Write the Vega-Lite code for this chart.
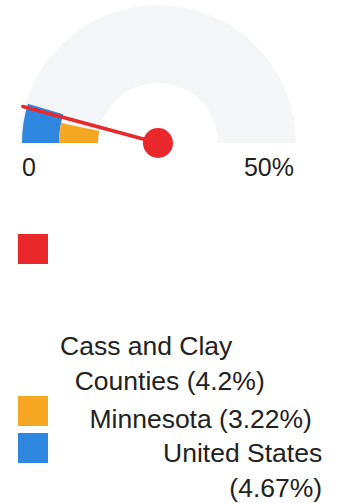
{
  "$schema": "https://vega.github.io/schema/vega-lite/v6.json",
  "width": 316,
  "height": 286,
  "padding": {"left": 0, "top": 0, "right": 0, "bottom": 6},
  "autosize": {"type": "pad"},
  "background": "white",
  "config": {"view": {"stroke": null}},
  "datasets": {
    "range": [{"min": 0, "max": 50}],
    "ticks": [{"tick": 0, "text": "0"}, {"tick": 50, "text": "50%"}],
    "rates": [
      {"area": "Cass and Clay Counties (4.2%)", "rate": 4.2},
      {"area": "Minnesota (3.22%)", "rate": 3.22},
      {"area": "United States (4.67%)", "rate": 4.67}
    ]
  },
  "layer": [
    {
      "data": {"name": "range"},
      "mark": {"type": "arc", "radius": 138, "radius2": 60, "color": "#f5f6f8"},
      "encoding": {
        "theta": {"field": "min", "type": "quantitative", "stack": null,
          "scale": {"domain": [0, 50], "range": [-1.5708, 1.5708], "nice": false, "zero": false}},
        "theta2": {"field": "max"}
      }
    },
    {
      "data": {"name": "rates"},
      "transform": [{"filter": "datum.area == 'United States (4.67%)'"}],
      "mark": {"type": "arc", "radius": 136, "radius2": 99},
      "encoding": {
        "theta": {"field": "rate", "type": "quantitative", "stack": null},
        "theta2": {"datum": 0},
        "color": {
          "field": "area", "type": "nominal",
          "scale": {"domain": ["Cass and Clay Counties (4.2%)", "Minnesota (3.22%)", "United States (4.67%)"], "range": ["#e8282b", "#f5a623", "#2e86de"]},
          "legend": {
            "title": null, "orient": "none", "legendX": 18, "legendY": 234,
            "direction": "vertical", "padding": 0, "rowPadding": 0,
            "symbolType": "square", "symbolSize": 900, "symbolStrokeWidth": 0, "symbolOffset": 0,
            "labelFont": "Liberation Sans", "labelFontSize": 26.5, "labelColor": "#222222", "labelLimit": 400, "labelOffset": 12,
            "labelBaseline": "top", "labelAlign": "left",
            "labelExpr": "datum.label == 'Cass and Clay Counties (4.2%)' ? ['Cass and Clay', '\u200b\u00a0\u00a0Counties (4.2%)'] : datum.label == 'Minnesota (3.22%)' ? '\u200b\u00a0\u00a0\u00a0\u00a0Minnesota (3.22%)' : ['\u200b\u00a0\u00a0\u00a0\u00a0\u00a0\u00a0\u00a0\u00a0\u00a0\u00a0\u00a0\u00a0\u00a0\u00a0United States', '\u200b\u00a0\u00a0\u00a0\u00a0\u00a0\u00a0\u00a0\u00a0\u00a0\u00a0\u00a0\u00a0\u00a0\u00a0\u00a0\u00a0\u00a0\u00a0\u00a0\u00a0\u00a0\u00a0\u00a0(4.67%)']",
            "encode": {"labels": {"update": {"lineHeight": {"value": 35}, "dy": {"signal": "datum.index == 0 ? 85 : datum.index == 1 ? -4.5 : -7.5"}}}}
          }
        }
      }
    },
    {
      "data": {"name": "rates"},
      "transform": [{"filter": "datum.area == 'Minnesota (3.22%)'"}],
      "mark": {"type": "arc", "radius": 99, "radius2": 60},
      "encoding": {
        "theta": {"field": "rate", "type": "quantitative", "stack": null},
        "theta2": {"datum": 0},
        "color": {
          "field": "area", "type": "nominal",
          "scale": {"domain": ["Cass and Clay Counties (4.2%)", "Minnesota (3.22%)", "United States (4.67%)"], "range": ["#e8282b", "#f5a623", "#2e86de"]},
          "legend": {
            "title": null, "orient": "none", "legendX": 18, "legendY": 234,
            "direction": "vertical", "padding": 0, "rowPadding": 0,
            "symbolType": "square", "symbolSize": 900, "symbolStrokeWidth": 0, "symbolOffset": 0,
            "labelFont": "Liberation Sans", "labelFontSize": 26.5, "labelColor": "#222222", "labelLimit": 400, "labelOffset": 12,
            "labelBaseline": "top", "labelAlign": "left",
            "labelExpr": "datum.label == 'Cass and Clay Counties (4.2%)' ? ['Cass and Clay', '\u200b\u00a0\u00a0Counties (4.2%)'] : datum.label == 'Minnesota (3.22%)' ? '\u200b\u00a0\u00a0\u00a0\u00a0Minnesota (3.22%)' : ['\u200b\u00a0\u00a0\u00a0\u00a0\u00a0\u00a0\u00a0\u00a0\u00a0\u00a0\u00a0\u00a0\u00a0\u00a0United States', '\u200b\u00a0\u00a0\u00a0\u00a0\u00a0\u00a0\u00a0\u00a0\u00a0\u00a0\u00a0\u00a0\u00a0\u00a0\u00a0\u00a0\u00a0\u00a0\u00a0\u00a0\u00a0\u00a0\u00a0(4.67%)']",
            "encode": {"labels": {"update": {"lineHeight": {"value": 35}, "dy": {"signal": "datum.index == 0 ? 85 : datum.index == 1 ? -4.5 : -7.5"}}}}
          }
        }
      }
    },
    {
      "data": {"name": "rates"},
      "transform": [{"filter": "datum.area == 'Cass and Clay Counties (4.2%)'"}],
      "mark": {"type": "arc", "radius": 140, "radius2": 0, "filled": false, "stroke": "#e8282b", "strokeWidth": 3.5, "strokeCap": "round", "strokeJoin": "round"},
      "encoding": {
        "theta": {"field": "rate", "type": "quantitative", "stack": null},
        "theta2": {"field": "rate"}
      }
    },
    {
      "data": {"name": "rates"},
      "transform": [{"filter": "datum.area == 'Cass and Clay Counties (4.2%)'"}],
      "mark": {"type": "arc", "radius": 15, "radius2": 0, "theta": 0, "theta2": 6.2832, "color": "#e8282b"},
      "encoding": {}
    },
    {
      "data": {"name": "ticks"},
      "transform": [{"filter": "datum.tick == 0"}],
      "mark": {"type": "text", "radius": 136, "align": "left", "baseline": "alphabetic", "dy": 33, "font": "Liberation Sans", "fontSize": 25, "color": "#222222"},
      "encoding": {
        "theta": {"field": "tick", "type": "quantitative", "stack": null},
        "text": {"field": "text"}
      }
    },
    {
      "data": {"name": "ticks"},
      "transform": [{"filter": "datum.tick == 50"}],
      "mark": {"type": "text", "radius": 136, "align": "right", "baseline": "alphabetic", "dy": 33, "font": "Liberation Sans", "fontSize": 25, "color": "#222222"},
      "encoding": {
        "theta": {"field": "tick", "type": "quantitative", "stack": null},
        "text": {"field": "text"}
      }
    }
  ]
}
